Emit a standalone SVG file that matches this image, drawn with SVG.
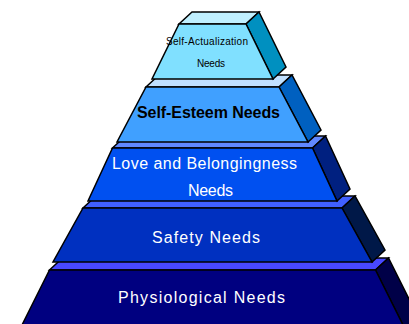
<svg xmlns="http://www.w3.org/2000/svg" width="409" height="324" viewBox="0 0 409 324">
<style>
  .e{stroke:#000;stroke-width:1.5;stroke-linejoin:miter}
  .t{font-family:"Liberation Sans",Arial,sans-serif;text-anchor:start}
  .w{fill:#fff}
  .k{fill:#000}
</style>
<rect width="409" height="324" fill="#fff"/>
<g id="tier5">
  <polygon class="e" points="49.5,270 375.5,270 388.5,258 62.5,258" fill="#4848ff"/>
  <polygon class="e" points="375.5,270 388.5,258 418.5,318 405.5,330" fill="#000048"/>
  <polygon class="e" points="49.5,270 375.5,270 405.5,330 19.5,330" fill="#000080"/>
  <text class="t w" x="118" y="303" font-size="16" textLength="167" lengthAdjust="spacing">Physiological Needs</text>
</g>
<g id="tier4">
  <polygon class="e" points="83,208 342,208 355,196 96,196" fill="#4060ff"/>
  <polygon class="e" points="342,208 355,196 385,250 372,262" fill="#001848"/>
  <polygon class="e" points="83,208 342,208 372,262 53,262" fill="#0030c0"/>
  <text class="t w" x="152" y="243" font-size="16" textLength="108" lengthAdjust="spacing">Safety Needs</text>
</g>
<g id="tier3">
  <polygon class="e" points="112.5,148 312.5,148 325.5,136 125.5,136" fill="#6088ff"/>
  <polygon class="e" points="312.5,148 325.5,136 350,189 337,201" fill="#002080"/>
  <polygon class="e" points="112.5,148 312.5,148 337,201 88,201" fill="#0050f0"/>
  <text class="t w" x="112" y="169" font-size="16" textLength="185" lengthAdjust="spacing">Love and Belongingness</text>
  <text class="t w" x="188" y="196" font-size="16" textLength="45" lengthAdjust="spacing">Needs</text>
</g>
<g id="tier2">
  <polygon class="e" points="146,87 279,87 292,75 159,75" fill="#c0e0ff"/>
  <polygon class="e" points="279,87 292,75 321,130 308,142" fill="#0060c0"/>
  <polygon class="e" points="146,87 279,87 308,142 117,142" fill="#40a0ff"/>
  <text class="t k" x="137" y="118" font-size="16" font-weight="bold" textLength="143" lengthAdjust="spacing">Self-Esteem Needs</text>
</g>
<g id="tier1">
  <polygon class="e" points="179,24 246,24 259,12 192,12" fill="#c0f0ff"/>
  <polygon class="e" points="246,24 259,12 286,67 273,79" fill="#0090c0"/>
  <polygon class="e" points="179,24 246,24 273,79 152,79" fill="#80e0ff"/>
  <text class="t k" x="166" y="45" font-size="10" textLength="82" lengthAdjust="spacing">Self-Actualization</text>
  <text class="t k" x="197" y="67" font-size="10" textLength="28" lengthAdjust="spacing">Needs</text>
</g>
<g id="connectors"></g>
</svg>
